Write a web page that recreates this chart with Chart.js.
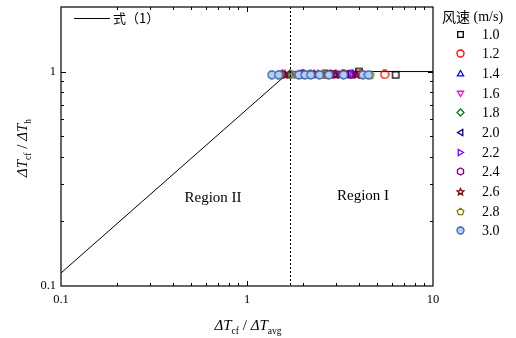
<!DOCTYPE html>
<html>
<head>
<meta charset="utf-8">
<script src="https://cdn.jsdelivr.net/npm/chart.js@4/dist/chart.umd.min.js"></script>
<style>
  html, body { margin: 0; padding: 0; background: #fff; }
  #wrap { width: 516px; height: 338px; }
</style>
</head>
<body>
<div id="wrap"><canvas id="c" width="516" height="338"></canvas></div>
<script>
// Wind speed groups (m/s)
const speedLabels = ['1.0', '1.2', '1.4', '1.6', '1.8', '2.0', '2.2', '2.4', '2.6', '2.8', '3.0'];

// Measured ratio pairs per wind speed: x = ΔTcf/ΔTavg, y = ΔTcf/ΔTh
const xs10 = [2.2, 2.9, 3.6, 4.0, 6.3];
const ys10 = [0.97, 0.975, 0.97, 1.0, 0.965];
const xs12 = [2.0, 2.6, 3.3, 4.1, 5.5];
const ys12 = [0.97, 0.97, 0.975, 0.97, 0.97];
const xs14 = [1.9, 2.4, 3.0, 3.7];
const ys14 = [0.97, 0.975, 0.97, 0.98];
const xs16 = [1.8, 2.3, 2.9, 3.5];
const ys16 = [0.97, 0.97, 0.97, 0.975];
const xs18 = [1.7, 2.2, 2.7, 3.3];
const ys18 = [0.97, 0.97, 0.975, 0.97];
const xs20 = [1.65, 2.1, 2.6, 3.4];
const ys20 = [0.97, 0.97, 0.97, 0.975];
const xs22 = [1.6, 2.0, 2.5, 3.2, 3.8];
const ys22 = [0.97, 0.975, 0.97, 0.97, 0.97];
const xs24 = [1.55, 2.0, 2.8, 3.6];
const ys24 = [0.97, 0.97, 0.97, 0.97];
const xs26 = [1.6, 2.3, 3.0, 3.9];
const ys26 = [0.97, 0.975, 0.97, 0.97];
const xs28 = [1.5, 1.75, 2.6, 4.6];
const ys28 = [0.965, 0.97, 0.97, 0.965];
const xs30 = [1.36, 1.48, 1.9, 2.05, 2.2, 2.45, 2.75, 3.3, 4.2, 4.5];
const ys30 = [0.965, 0.965, 0.965, 0.965, 0.965, 0.965, 0.965, 0.965, 0.965, 0.965];

const seriesX = [xs10, xs12, xs14, xs16, xs18, xs20, xs22, xs24, xs26, xs28, xs30];
const seriesY = [ys10, ys12, ys14, ys16, ys18, ys20, ys22, ys24, ys26, ys28, ys30];

// Eq. (1) curve: power-law branch up to the boundary, then constant
const eqX = [0.1, 1.7, 10];
const eqY = [0.115, 1.0, 1.0];
const boundaryX = 1.7;

// Axis label values
const xTickLabels = [0.1, 1, 10];
const yTickLabels = [0.1, 1];

// Marker styling
const markerShapes = ['square', 'circle', 'triUp', 'triDown', 'diamond', 'triLeft', 'triRight', 'hexagon', 'star', 'pentagon', 'circleFill'];
const markerColors = ['#000000', '#ff0000', '#0000ff', '#ff00ff', '#008000', '#000080', '#7f00ff', '#800080', '#800000', '#808000', '#3366b0'];

function polygon(ctx, cx, cy, r, n, rot) {
  ctx.beginPath();
  for (let i = 0; i < n; i++) {
    const a = rot + i * 2 * Math.PI / n;
    const px = cx + r * Math.cos(a), py = cy + r * Math.sin(a);
    if (i === 0) ctx.moveTo(px, py); else ctx.lineTo(px, py);
  }
  ctx.closePath();
}

function makeMarker(shape, color, size) {
  const c = document.createElement('canvas');
  c.width = size; c.height = size;
  const ctx = c.getContext('2d');
  const m = size / 2, r = size / 2 - 1;
  ctx.strokeStyle = color;
  ctx.lineWidth = 1.3;
  ctx.fillStyle = 'rgba(0,0,0,0)';
  switch (shape) {
    case 'square': ctx.beginPath(); ctx.rect(m - r * 0.8, m - r * 0.8, r * 1.6, r * 1.6); break;
    case 'circle': ctx.beginPath(); ctx.arc(m, m, r, 0, Math.PI * 2); break;
    case 'circleFill': ctx.beginPath(); ctx.arc(m, m, r, 0, Math.PI * 2); ctx.fillStyle = '#b4cdec'; break;
    case 'triUp': polygon(ctx, m, m + r * 0.15, r, 3, -Math.PI / 2); break;
    case 'triDown': polygon(ctx, m, m - r * 0.15, r, 3, Math.PI / 2); break;
    case 'triLeft': polygon(ctx, m + r * 0.15, m, r, 3, Math.PI); break;
    case 'triRight': polygon(ctx, m - r * 0.15, m, r, 3, 0); break;
    case 'diamond': polygon(ctx, m, m, r, 4, 0); break;
    case 'hexagon': polygon(ctx, m, m, r, 6, Math.PI / 2); break;
    case 'pentagon': polygon(ctx, m, m + 0.3, r, 5, -Math.PI / 2); break;
    case 'star': {
      ctx.beginPath();
      for (let i = 0; i < 10; i++) {
        const a = -Math.PI / 2 + i * Math.PI / 5;
        const rr = i % 2 === 0 ? r : r * 0.45;
        const px = m + rr * Math.cos(a), py = m + 0.5 + rr * Math.sin(a);
        if (i === 0) ctx.moveTo(px, py); else ctx.lineTo(px, py);
      }
      ctx.closePath();
      break;
    }
  }
  ctx.fill();
  ctx.stroke();
  return c;
}

const plotMarkers = markerShapes.map((s, i) => makeMarker(s, markerColors[i], 10));
const legendMarkers = markerShapes.map((s, i) => makeMarker(s, markerColors[i], 9));

const datasets = [{
  label: '式（1）',
  type: 'line',
  data: eqX.map((x, i) => ({ x, y: eqY[i] })),
  borderColor: '#000',
  borderWidth: 1,
  pointRadius: 0,
  fill: false,
  order: 20
}];
speedLabels.forEach((lab, i) => {
  datasets.push({
    label: lab,
    type: 'scatter',
    data: seriesX[i].map((x, k) => ({ x, y: seriesY[i][k] })),
    pointStyle: plotMarkers[i],
    pointRadius: 5,
    order: 11 - i
  });
});

const SERIF = '"Liberation Serif", "Times New Roman", serif';
const CJK = '"Noto Sans CJK SC", sans-serif';

// Draws a run of text pieces (normal / subscript), centred on (cx, cy)
function drawRich(ctx, parts, cx, cy) {
  let total = 0;
  parts.forEach(p => { ctx.font = p.font; p.w = ctx.measureText(p.t).width; total += p.w; });
  let x = cx - total / 2;
  ctx.textBaseline = 'alphabetic';
  ctx.textAlign = 'left';
  parts.forEach(p => {
    ctx.font = p.font;
    ctx.fillText(p.t, x, cy + (p.dy || 0));
    x += p.w;
  });
}

const framePlugin = {
  id: 'frame',
  afterDatasetsDraw(chart) {
    const { ctx, chartArea: a, scales } = chart;
    const xs = scales.x, ys = scales.y;
    ctx.save();
    ctx.strokeStyle = '#000';
    ctx.fillStyle = '#000';

    // boundary between the two regions
    const bx = Math.round(xs.getPixelForValue(boundaryX)) + 0.5;
    ctx.lineWidth = 1;
    ctx.setLineDash([2, 2]);
    ctx.beginPath(); ctx.moveTo(bx, a.top); ctx.lineTo(bx, a.bottom); ctx.stroke();
    ctx.setLineDash([]);

    // frame
    ctx.lineWidth = 1.2;
    ctx.strokeRect(a.left, a.top, a.right - a.left, a.bottom - a.top);

    // inward ticks on all four sides
    ctx.lineWidth = 1;
    for (let d = 0.1; d < 10; d *= 10) {
      for (let k = 1; k <= 9; k++) {
        const v = d * k;
        if (v <= xs.min || v >= xs.max) continue;
        const px = Math.round(xs.getPixelForValue(v)) + 0.5;
        const len = k === 1 ? 5 : 3;
        ctx.beginPath();
        ctx.moveTo(px, a.bottom); ctx.lineTo(px, a.bottom - len);
        ctx.moveTo(px, a.top); ctx.lineTo(px, a.top + len);
        ctx.stroke();
      }
    }
    for (let d = 0.1; d < 10; d *= 10) {
      for (let k = 1; k <= 9; k++) {
        const v = d * k;
        if (v <= ys.min || v >= ys.max) continue;
        const py = Math.round(ys.getPixelForValue(v)) + 0.5;
        const len = k === 1 ? 5 : 3;
        ctx.beginPath();
        ctx.moveTo(a.left, py); ctx.lineTo(a.left + len, py);
        ctx.moveTo(a.right, py); ctx.lineTo(a.right - len, py);
        ctx.stroke();
      }
    }

    // tick labels
    ctx.font = '12.5px ' + SERIF;
    ctx.textBaseline = 'middle';
    ctx.textAlign = 'center';
    xTickLabels.forEach(v => ctx.fillText(String(v), xs.getPixelForValue(v), a.bottom + 14));
    ctx.textAlign = 'right';
    yTickLabels.forEach(v => ctx.fillText(String(v), a.left - 5, ys.getPixelForValue(v)));

    // region labels
    ctx.font = '15px ' + SERIF;
    ctx.textAlign = 'center';
    ctx.fillText('Region II', 213, 198);
    ctx.fillText('Region I', 363, 196);

    // axis titles
    const big = 'italic 15px ' + SERIF, sub = '9.5px ' + SERIF, mid = '15px ' + SERIF;
    drawRich(ctx, [
      { t: 'ΔT', font: big }, { t: 'cf', font: sub, dy: 4 },
      { t: ' / ', font: mid }, { t: 'ΔT', font: big }, { t: 'avg', font: sub, dy: 4 }
    ], 248, 330);
    ctx.save();
    ctx.translate(27, 148);
    ctx.rotate(-Math.PI / 2);
    drawRich(ctx, [
      { t: 'ΔT', font: big }, { t: 'cf', font: sub, dy: 4 },
      { t: ' / ', font: mid }, { t: 'ΔT', font: big }, { t: 'h', font: sub, dy: 4 }
    ], 0, 0);
    ctx.restore();

    // inset legend for Eq. (1)
    ctx.lineWidth = 1;
    ctx.beginPath(); ctx.moveTo(74, 18.5); ctx.lineTo(110, 18.5); ctx.stroke();
    ctx.textAlign = 'left';
    ctx.textBaseline = 'middle';
    ctx.font = '13px ' + CJK;
    ctx.fillText(chart.data.datasets[0].label, 113, 18);

    // wind-speed legend
    ctx.font = '14px ' + CJK;
    ctx.fillText('风速', 442, 17);
    const w = ctx.measureText('风速').width;
    ctx.font = '14px ' + SERIF;
    ctx.fillText(' (m/s)', 442 + w, 17);
    speedLabels.forEach((lab, i) => {
      const y = Math.round(33.5 + i * 19.67);
      const img = legendMarkers[i];
      ctx.drawImage(img, Math.round(460 - img.width / 2), Math.round(y - img.height / 2));
      ctx.font = '14px ' + SERIF;
      ctx.fillText(lab, 482, y + 1);
    });
    ctx.restore();
  }
};

new Chart(document.getElementById('c'), {
  data: { datasets },
  options: {
    responsive: false,
    animation: false,
    devicePixelRatio: 1,
    layout: { padding: { left: 61, top: 7, right: 83, bottom: 52 } },
    plugins: { legend: { display: false }, tooltip: { enabled: false } },
    scales: {
      x: { type: 'logarithmic', min: 0.1, max: 10, display: false },
      y: { type: 'logarithmic', min: 0.1, max: 2, display: false }
    }
  },
  plugins: [framePlugin]
});
</script>
</body>
</html>
